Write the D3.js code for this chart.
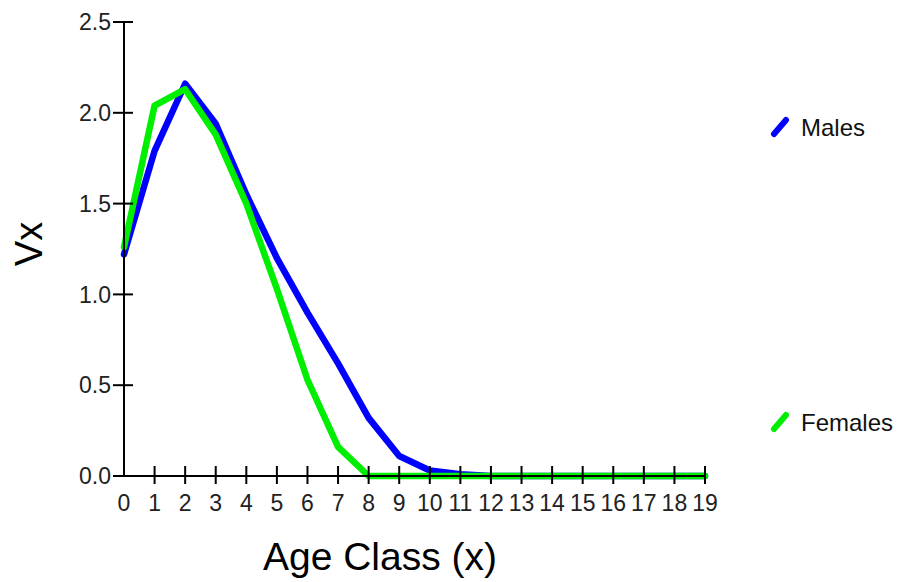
<!DOCTYPE html>
<html><head><meta charset="utf-8">
<script src="https://cdn.jsdelivr.net/npm/d3@7"></script>
<style>body{margin:0;background:#fff;}svg{display:block;font-family:"Liberation Sans",Arial,sans-serif;}</style>
</head><body>
<svg id="c" width="899" height="582"></svg>
<script>
const ageClasses = d3.range(0, 20);
const males =   [1.22, 1.79, 2.16, 1.94, 1.55, 1.20, 0.90, 0.62, 0.32, 0.11, 0.03, 0.01, 0, 0, 0, 0, 0, 0, 0, 0];
const females = [1.26, 2.04, 2.13, 1.88, 1.50, 1.03, 0.53, 0.16, 0, 0, 0, 0, 0, 0, 0, 0, 0, 0, 0, 0];
const yTicks = [0, 0.5, 1.0, 1.5, 2.0, 2.5];
const seriesNames = ["Males", "Females"];
const seriesColors = ["#0000ff", "#00ee00"];

const svg = d3.select("#c");
const x = d3.scaleLinear().domain([0, 19]).range([124, 705]);
const y = d3.scaleLinear().domain([0, 2.5]).range([476, 22]);
const tickFont = "'Liberation Sans Narrow','Liberation Sans',sans-serif";

// lines
const line = d3.line().x((d, i) => x(ageClasses[i])).y(d => y(d));
[males, females].forEach((s, k) => {
  svg.append("path").datum(s).attr("d", line)
    .attr("fill", "none").attr("stroke", seriesColors[k])
    .attr("stroke-width", 6.5).attr("stroke-linejoin", "round").attr("stroke-linecap", "round");
});

// y axis
const yAxis = svg.append("g");
yAxis.append("line").attr("x1", x(0)).attr("x2", x(0)).attr("y1", y(2.5)).attr("y2", y(0))
  .attr("stroke", "#000").attr("stroke-width", 2);
yTicks.forEach(t => {
  yAxis.append("line").attr("x1", x(0) - 11).attr("x2", x(0) + 9).attr("y1", y(t)).attr("y2", y(t))
    .attr("stroke", "#000").attr("stroke-width", 2);
  yAxis.append("text").attr("x", x(0) - 13).attr("y", y(t)).attr("dy", "0.36em")
    .attr("text-anchor", "end").attr("font-size", 23).attr("font-family", tickFont)
    .attr("fill", "#222").text(d3.format(".1f")(t));
});

// x axis
const xAxis = svg.append("g");
xAxis.append("line").attr("x1", x(0)).attr("x2", x(19)).attr("y1", y(0)).attr("y2", y(0))
  .attr("stroke", "#000").attr("stroke-width", 2);
ageClasses.forEach(t => {
  if (t > 0) xAxis.append("line").attr("x1", x(t)).attr("x2", x(t)).attr("y1", y(0) - 10).attr("y2", y(0) + 8)
    .attr("stroke", "#000").attr("stroke-width", 2);
  xAxis.append("text").attr("x", x(t)).attr("y", 511).attr("text-anchor", "middle")
    .attr("font-size", 23).attr("font-family", tickFont).attr("fill", "#222").text(t);
});

// titles
svg.append("text").attr("transform", "translate(42,244) rotate(-90)").attr("text-anchor", "middle")
  .attr("font-size", 38).attr("fill", "#000").text("Vx");
svg.append("text").attr("x", 380).attr("y", 570).attr("text-anchor", "middle")
  .attr("font-size", 39).attr("fill", "#000").text("Age Class (x)");

// legend
const legY = [127, 422];
seriesNames.forEach((n, k) => {
  svg.append("line").attr("x1", 774).attr("y1", legY[k] + 7).attr("x2", 786).attr("y2", legY[k] - 7)
    .attr("stroke", seriesColors[k]).attr("stroke-width", 6).attr("stroke-linecap", "round");
  svg.append("text").attr("x", 801).attr("y", legY[k]).attr("dy", "0.36em")
    .attr("font-size", 24).attr("fill", "#111").text(n);
});
</script>
</body></html>
